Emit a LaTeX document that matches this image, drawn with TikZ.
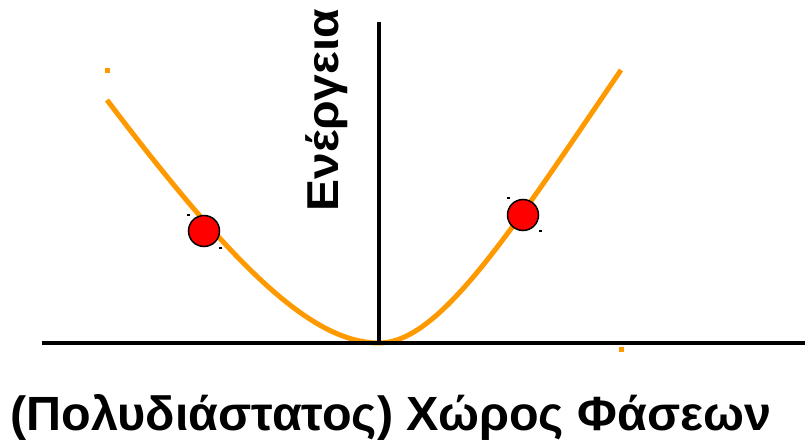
\documentclass[tikz,border=0pt]{standalone}
\usepackage{fontspec}
\setmainfont{Liberation Sans}
\definecolor{curveorange}{RGB}{255,153,0}
\definecolor{dotred}{RGB}{255,0,0}
\begin{document}
\begin{tikzpicture}[x=1pt,y=-1pt,
  axis/.style={line width=3.2pt,black},
  curve/.style={line width=5pt,curveorange},
  ball/.style={circle,draw=black,line width=1.5pt,fill=dotred,minimum size=31pt,inner sep=0pt},
  speck/.style={fill=curveorange,minimum size=5pt,inner sep=0pt},
  tick/.style={fill=black,minimum width=3pt,minimum height=1.5pt,inner sep=0pt},
  lbl/.style={font=\bfseries\fontsize{48}{52}\selectfont,inner sep=0pt}]
\useasboundingbox (0,0) rectangle (805,443);
\coordinate (v) at (379,343);
\coordinate (lt) at (107,100);
\coordinate (rt) at (621,70);
\coordinate (xl) at (42,343);
\coordinate (xr) at (805,343);
\coordinate (yt) at (379,22);
\draw[curve] (lt) .. controls (230,262) and (310,343) .. (v)
  .. controls (440,343) and (511,231) .. (rt);
\draw[axis] (xl) -- (xr);
\draw[axis] (v) -- (yt);
\node[speck] (s1) at (107,71) {};
\node[speck] (s2) at (621,349) {};
\node[tick] (t1) at (188,215) {};
\node[tick] (t2) at (220,248) {};
\node[tick] (t3) at (508,198) {};
\node[tick] (t4) at (540,231) {};
\node[ball] (b1) at (204,231) {};
\node[ball] (b2) at (523,215) {};
\node[lbl,rotate=90] (en) at (327,110) {\scalebox{1.0}[0.93]{Ενέργεια}};
\node[lbl] (ph) at (391,417) {\scalebox{1.01}[1]{(Πολυδιάστατος) Χώρος Φάσεων}};
\end{tikzpicture}
\end{document}
